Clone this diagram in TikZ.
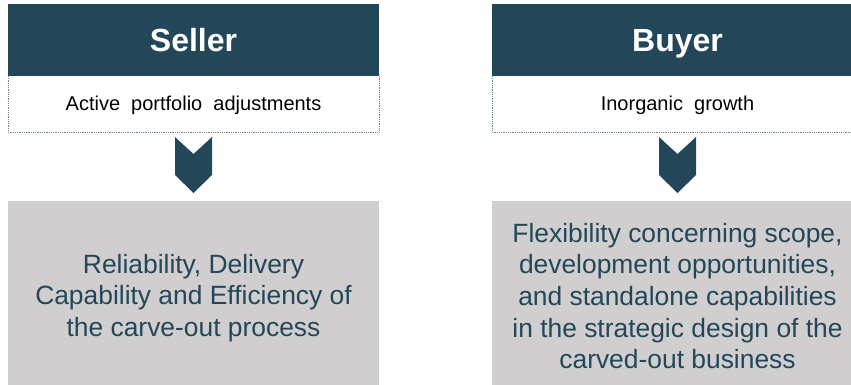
\documentclass[tikz,border=0pt]{standalone}
\usepackage{fontspec}
\setmainfont{Liberation Sans}
\definecolor{teal}{HTML}{234759}
\definecolor{panel}{HTML}{D0CECF}
\definecolor{dotline}{HTML}{6E8796}
\begin{document}
\begin{tikzpicture}[x=1pt,y=-1pt,
  header/.style={fill=teal,draw=none},
  subbox/.style={draw=dotline,densely dotted,line width=0.8pt},
  chevron/.style={fill=teal,draw=none},
  panelbox/.style={fill=panel,draw=none},
  headtext/.style={anchor=base,text=white,font=\bfseries\fontsize{32}{36}\selectfont},
  subtext/.style={anchor=base,text=black,font=\fontsize{20}{24}\selectfont},
  paneltext/.style={text=teal,align=center,font=\fontsize{26.4}{31.7}\selectfont}]
\useasboundingbox (0,0) rectangle (851,385);

% Seller column
\fill[header] (8,4) rectangle (379,76);
\draw[subbox] (8,76) -- (8,132) -- (379,132) -- (379,76);
\fill[chevron] (175,137) -- (193.5,154) -- (212,137) -- (212,175) -- (193.5,193) -- (175,175) -- cycle;
\fill[panelbox] (8,201) rectangle (379,385);
\node[headtext] (seller) at (193.5,52) {Seller};
\node[subtext] (sellersub) at (193.5,111) {Active\ \ portfolio\ \ adjustments};
\node[paneltext] (sellergoal) at (193.5,298) {Reliability, Delivery\\Capability and Efficiency of\\the carve-out process};

% Buyer column
\fill[header] (492,4) rectangle (851,76);
\draw[subbox] (492,76) -- (492,132) -- (851,132);
\fill[chevron] (659,137) -- (677.5,154) -- (696,137) -- (696,175) -- (677.5,193) -- (659,175) -- cycle;
\fill[panelbox] (492,201) rectangle (851,385);
\node[headtext] (buyer) at (677.5,52) {Buyer};
\node[subtext] (buyersub) at (677.5,111) {Inorganic\ \ growth};
\node[paneltext] (buyergoal) at (677.5,296) {Flexibility concerning scope,\\development opportunities,\\and standalone capabilities\\in the strategic design of the\\carved-out business};
\end{tikzpicture}
\end{document}
